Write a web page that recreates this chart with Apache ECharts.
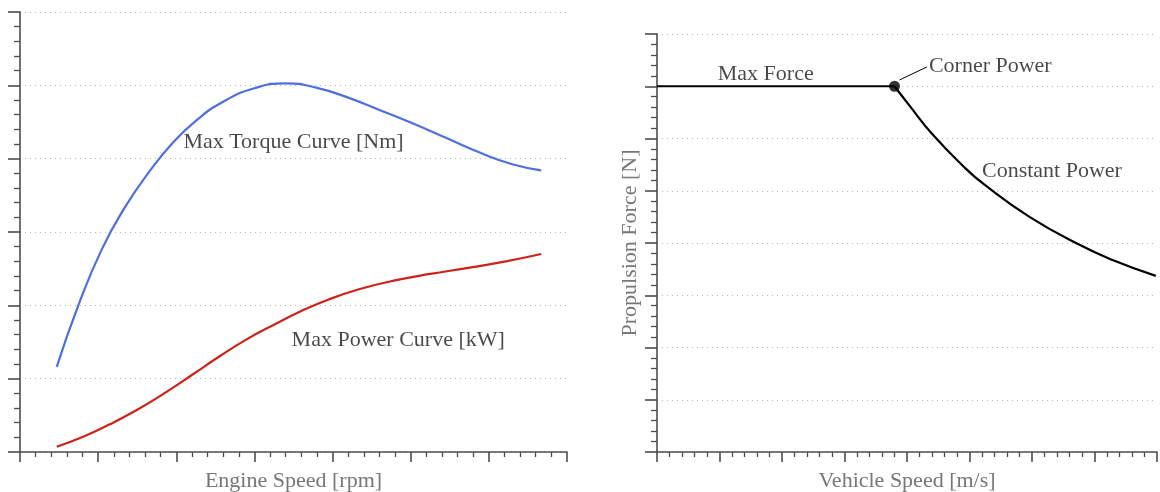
<!DOCTYPE html>
<html>
<head>
<meta charset="utf-8">
<script src="https://cdn.jsdelivr.net/npm/echarts@6/dist/echarts.min.js"></script>
<style>
html, body { margin: 0; padding: 0; background: #fff; }
#body-con { width: 1160px; height: 492px; }
</style>
</head>
<body>
<div id="body-con"></div>
<script>
// left: engine curves (rpm / Nm / kW)
var torqueRpm = [470, 750, 1050, 1350, 1650, 1950, 2250, 2600, 3000, 3400, 3800, 4200, 4600, 5000, 5450, 5900, 6300, 6670];
var torqueNm = [58, 100.5, 138.5, 167.5, 190.8, 210.5, 225.8, 238.8, 248, 251.4, 248.3, 241.6, 233.2, 224.6, 214.2, 203.8, 196.2, 192];
var powerRpm = [470, 800, 1150, 1500, 1850, 2200, 2550, 2900, 3250, 3600, 3950, 4350, 4800, 5250, 5700, 6200, 6670];
var powerKw = [3.6, 10.2, 18.9, 28.8, 40.1, 52.5, 65.1, 76.8, 86.8, 96.1, 104, 111.1, 117, 121.4, 125.2, 129.8, 135];

// right: propulsion force vs vehicle speed
var flatSpeed = [0, 19];
var flatForce = [7000, 7000];
var cpSpeed = [19, 20.2, 22, 24.5, 26.2, 29.8, 33.8, 36.5, 39.9];
var cpForce = [7000, 6630, 6090, 5470, 5115, 4500, 3965, 3670, 3370];
var corner = [19, 7000];

var zip = function (xs, ys) {
    var res = [];
    for (var i = 0; i < xs.length; i++) {
        res.push([xs[i], ys[i]]);
    }
    return res;
};

var serif = 'Liberation Serif';
var axisGray = '#4d4d4d';

// shared axis look, ticks outside, dotted grid at the majors
var baseAxis = function (opt) {
    var a = {
        type: 'value',
        axisLine: { show: true, lineStyle: { color: axisGray, width: 1.6 } },
        axisTick: { show: true, length: 10, lineStyle: { color: axisGray, width: 1.6 } },
        minorTick: { show: true, splitNumber: 5, length: 5, lineStyle: { color: axisGray, width: 1.3 } },
        axisLabel: { show: false },
        splitLine: { show: false },
        nameTextStyle: { fontFamily: serif, fontSize: 22, color: '#777' }
    };
    for (var k in opt) a[k] = opt[k];
    return a;
};
var dotted = { show: true, lineStyle: { color: '#b5b5b5', width: 1, type: [1, 4] } };

var note = function (xi, yi, text, coord, pos) {
    return {
        type: 'scatter',
        xAxisIndex: xi,
        yAxisIndex: yi,
        symbolSize: 0,
        silent: true,
        z: 5,
        label: {
            show: true,
            position: pos,
            distance: 0,
            formatter: text,
            fontFamily: serif,
            fontSize: 22,
            color: '#1a1a1a'
        },
        data: [coord]
    };
};

var myChart1 = echarts.init(document.getElementById('body-con'));

var option = {
    animation: false,
    grid: [
        { left: 20, top: 12, width: 547, height: 440, outerBoundsMode: 'none', containLabel: false },
        { left: 657, top: 34, width: 500, height: 418, outerBoundsMode: 'none', containLabel: false }
    ],
    xAxis: [
        baseAxis({ gridIndex: 0, min: 0, max: 7000, interval: 1000,
            name: 'Engine Speed [rpm]', nameLocation: 'middle', nameGap: 18 }),
        baseAxis({ gridIndex: 1, min: 0, max: 40, interval: 5,
            name: 'Vehicle Speed [m/s]', nameLocation: 'middle', nameGap: 18 })
    ],
    yAxis: [
        baseAxis({ gridIndex: 0, min: 0, max: 300, interval: 50, splitLine: dotted,
            axisTick: { show: true, length: 12, lineStyle: { color: axisGray, width: 1.6 } },
            minorTick: { show: true, splitNumber: 5, length: 6, lineStyle: { color: axisGray, width: 1.3 } } }),
        baseAxis({ gridIndex: 1, min: 0, max: 8000, interval: 1000, splitLine: dotted,
            axisTick: { show: true, length: 12, lineStyle: { color: axisGray, width: 1.6 } },
            minorTick: { show: true, splitNumber: 5, length: 6, lineStyle: { color: axisGray, width: 1.3 } },
            name: 'Propulsion Force [N]', nameLocation: 'middle', nameGap: 16 })
    ],
    series: [
        {
            type: 'line', xAxisIndex: 0, yAxisIndex: 0,
            smooth: true, showSymbol: false, silent: true,
            lineStyle: { color: '#4f6fe0', width: 2.2 },
            data: zip(torqueRpm, torqueNm)
        },
        {
            type: 'line', xAxisIndex: 0, yAxisIndex: 0,
            smooth: true, showSymbol: false, silent: true,
            lineStyle: { color: '#cc2219', width: 2.2 },
            data: zip(powerRpm, powerKw)
        },
        {
            type: 'line', xAxisIndex: 1, yAxisIndex: 1,
            showSymbol: false, silent: true,
            lineStyle: { color: '#000', width: 2.2 },
            data: zip(flatSpeed, flatForce)
        },
        {
            type: 'line', xAxisIndex: 1, yAxisIndex: 1,
            smooth: true, showSymbol: false, silent: true,
            lineStyle: { color: '#000', width: 2.2 },
            data: zip(cpSpeed, cpForce),
            markLine: {
                silent: true,
                symbol: 'none',
                label: { show: false },
                lineStyle: { color: '#000', width: 1, type: 'solid' },
                data: [[{ coord: [19.4, 7120] }, { coord: [21.6, 7370] }]]
            }
        },
        {
            type: 'scatter', xAxisIndex: 1, yAxisIndex: 1,
            symbol: 'circle', symbolSize: 11, silent: true, z: 4,
            itemStyle: { color: '#000' },
            data: [corner]
        },
        note(0, 0, 'Max Torque Curve [Nm]', [3500, 211], 'inside'),
        note(0, 0, 'Max Power Curve [kW]', [4840, 76], 'inside'),
        note(1, 1, 'Max Force', [8.7, 7230], 'inside'),
        note(1, 1, 'Corner Power', [21.75, 7390], 'right'),
        note(1, 1, 'Constant Power', [26.0, 5380], 'right')
    ]
};
myChart1.setOption(option);
</script>
</body>
</html>
